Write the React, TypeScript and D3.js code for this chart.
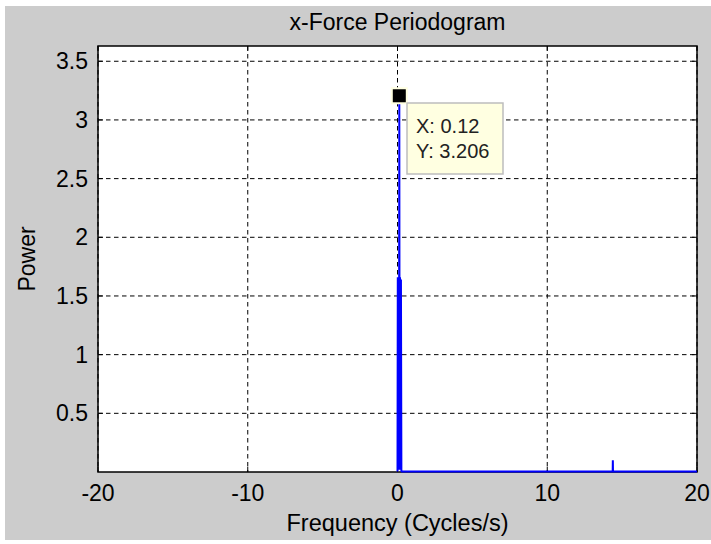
import React from "react";
import * as d3 from "d3";

const freqs = [0, 0.02, 0.05, 0.08, 0.1, 0.12, 0.14, 0.17, 0.2, 0.23, 0.26, 14.37, 14.38, 14.39, 20];
const powers = [0.005, 1.66, 0.02, 1.66, 0.02, 3.206, 0.02, 1.66, 0.02, 1.64, 0.005, 0.005, 0.1, 0.005, 0.005];
const xTicks = [-20, -10, 0, 10, 20];
const yTicks = [0.5, 1, 1.5, 2, 2.5, 3, 3.5];
const xDomain = [-20, 20];
const yDomain = [0, 3.63];
const tipX = 0.12;
const tipY = 3.206;

const W = 711;
const H = 544;
const L = 98, R = 697, T = 46, B = 472;
const FONT = "'Liberation Sans', Arial, Helvetica, sans-serif";

export default function App() {
  const x = d3.scaleLinear().domain(xDomain).range([L, R]);
  const y = d3.scaleLinear().domain(yDomain).range([B, T]);
  const line = d3
    .line<number>()
    .x((_, i) => x(freqs[i]))
    .y((d) => y(d));
  const px = x(tipX);
  const py = y(tipY);
  return (
    <div style={{ position: "absolute", left: 0, top: 0 }}>
      <svg width={W} height={H} style={{ display: "block", background: "#ffffff" }}>
        <rect x={5} y={6} width={W - 5} height={534} fill="#cccccc" />
        <rect x={L} y={T} width={R - L} height={B - T} fill="#ffffff" />
        {xTicks.map((t) => (
          <line key={"gx" + t} x1={x(t)} x2={x(t)} y1={T} y2={B} stroke="#000" strokeWidth={1} strokeDasharray="4.5,3.5" />
        ))}
        {yTicks.map((t) => (
          <line key={"gy" + t} x1={L} x2={R} y1={y(t)} y2={y(t)} stroke="#000" strokeWidth={1} strokeDasharray="4.5,3.5" />
        ))}
        {xTicks.map((t) => (
          <g key={"tx" + t}>
            <line x1={x(t)} x2={x(t)} y1={B} y2={B - 5} stroke="#000" />
            <line x1={x(t)} x2={x(t)} y1={T} y2={T + 5} stroke="#000" />
          </g>
        ))}
        {yTicks.map((t) => (
          <g key={"ty" + t}>
            <line x1={L} x2={L + 5} y1={y(t)} y2={y(t)} stroke="#000" />
            <line x1={R} x2={R - 5} y1={y(t)} y2={y(t)} stroke="#000" />
          </g>
        ))}
        <rect x={L} y={T} width={R - L} height={B - T} fill="none" stroke="#000" strokeWidth={1.5} />
        <path d={line(powers) || ""} fill="none" stroke="#0000ff" strokeWidth={2} strokeLinejoin="miter" strokeMiterlimit={1} />
        <rect x={px - 8.5} y={py - 8.5} width={17} height={17} fill="#ffffe1" />
        <rect x={px - 6.5} y={py - 6.5} width={13} height={13} fill="#000" />
        <rect x={407} y={103} width={96} height={71} fill="#ffffe1" stroke="#bdbdbd" strokeWidth={1.5} />
        <text x={416} y={133} fontFamily={FONT} fontSize={20} fill="#222">{`X: ${tipX}`}</text>
        <text x={416} y={158} fontFamily={FONT} fontSize={20} fill="#222">{`Y: ${tipY}`}</text>
        {xTicks.map((t) => (
          <text key={"lx" + t} x={x(t)} y={501} textAnchor="middle" fontFamily={FONT} fontSize={23} fill="#000">
            {t}
          </text>
        ))}
        {yTicks.map((t) => (
          <text key={"ly" + t} x={88} y={y(t) + 8} textAnchor="end" fontFamily={FONT} fontSize={23} fill="#000">
            {t}
          </text>
        ))}
        <text x={(L + R) / 2} y={30} textAnchor="middle" fontFamily={FONT} fontSize={23} fill="#000">
          x-Force Periodogram
        </text>
        <text x={(L + R) / 2} y={531} textAnchor="middle" fontFamily={FONT} fontSize={23.5} fill="#000">
          Frequency (Cycles/s)
        </text>
        <text
          transform={`translate(35, ${(T + B) / 2}) rotate(-90)`}
          textAnchor="middle"
          fontFamily={FONT}
          fontSize={23}
          fill="#000"
        >
          Power
        </text>
      </svg>
    </div>
  );
}
